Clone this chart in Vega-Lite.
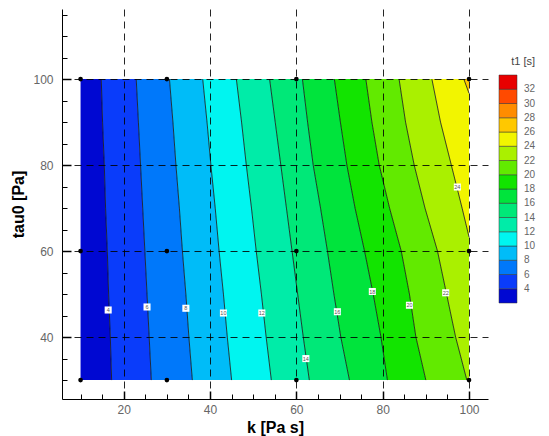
{
  "$schema": "https://vega.github.io/schema/vega-lite/v6.json",
  "autosize": "none",
  "width": 426,
  "height": 390,
  "padding": {"left": 62, "top": 9, "right": 61, "bottom": 37},
  "datasets": {
    "bands": [
      {"t":3,"tau":30,"x1":10,"x2":17.2},{"t":3,"tau":40,"x1":10,"x2":16.9},{"t":3,"tau":50,"x1":10,"x2":16.5},{"t":3,"tau":60,"x1":10,"x2":16.2},{"t":3,"tau":70,"x1":10,"x2":15.8},{"t":3,"tau":80,"x1":10,"x2":15.5},{"t":3,"tau":90,"x1":10,"x2":15.1},{"t":3,"tau":100,"x1":10,"x2":14.8},
      {"t":5,"tau":30,"x1":17.2,"x2":26.4},{"t":5,"tau":40,"x1":16.9,"x2":25.9},{"t":5,"tau":50,"x1":16.5,"x2":25.4},{"t":5,"tau":60,"x1":16.2,"x2":24.9},{"t":5,"tau":70,"x1":15.8,"x2":24.4},{"t":5,"tau":80,"x1":15.5,"x2":23.9},{"t":5,"tau":90,"x1":15.1,"x2":23.4},{"t":5,"tau":100,"x1":14.8,"x2":22.9},
      {"t":7,"tau":30,"x1":26.4,"x2":35.9},{"t":7,"tau":40,"x1":25.9,"x2":35.1},{"t":7,"tau":50,"x1":25.4,"x2":34.4},{"t":7,"tau":60,"x1":24.9,"x2":33.6},{"t":7,"tau":70,"x1":24.4,"x2":32.9},{"t":7,"tau":80,"x1":23.9,"x2":32.1},{"t":7,"tau":90,"x1":23.4,"x2":31.4},{"t":7,"tau":100,"x1":22.9,"x2":30.6},
      {"t":9,"tau":30,"x1":35.9,"x2":45.0},{"t":9,"tau":40,"x1":35.1,"x2":44.0},{"t":9,"tau":50,"x1":34.4,"x2":43.1},{"t":9,"tau":60,"x1":33.6,"x2":42.1},{"t":9,"tau":70,"x1":32.9,"x2":41.2},{"t":9,"tau":80,"x1":32.1,"x2":40.2},{"t":9,"tau":90,"x1":31.4,"x2":39.3},{"t":9,"tau":100,"x1":30.6,"x2":38.3},
      {"t":11,"tau":30,"x1":45.0,"x2":54.2},{"t":11,"tau":40,"x1":44.0,"x2":53.0},{"t":11,"tau":50,"x1":43.1,"x2":51.9},{"t":11,"tau":60,"x1":42.1,"x2":50.7},{"t":11,"tau":70,"x1":41.2,"x2":49.6},{"t":11,"tau":80,"x1":40.2,"x2":48.4},{"t":11,"tau":90,"x1":39.3,"x2":47.3},{"t":11,"tau":100,"x1":38.3,"x2":46.1},
      {"t":13,"tau":30,"x1":54.2,"x2":63.0},{"t":13,"tau":40,"x1":53.0,"x2":61.6},{"t":13,"tau":50,"x1":51.9,"x2":60.3},{"t":13,"tau":60,"x1":50.7,"x2":59.0},{"t":13,"tau":70,"x1":49.6,"x2":57.7},{"t":13,"tau":80,"x1":48.4,"x2":56.4},{"t":13,"tau":90,"x1":47.3,"x2":55.1},{"t":13,"tau":100,"x1":46.1,"x2":53.8},
      {"t":15,"tau":30,"x1":63.0,"x2":72.3},{"t":15,"tau":40,"x1":61.6,"x2":70.3},{"t":15,"tau":50,"x1":60.3,"x2":68.7},{"t":15,"tau":60,"x1":59.0,"x2":67.2},{"t":15,"tau":70,"x1":57.7,"x2":65.6},{"t":15,"tau":80,"x1":56.4,"x2":63.9},{"t":15,"tau":90,"x1":55.1,"x2":62.6},{"t":15,"tau":100,"x1":53.8,"x2":61.4},
      {"t":17,"tau":30,"x1":72.3,"x2":81.1},{"t":17,"tau":40,"x1":70.3,"x2":79.6},{"t":17,"tau":50,"x1":68.7,"x2":77.8},{"t":17,"tau":60,"x1":67.2,"x2":75.8},{"t":17,"tau":70,"x1":65.6,"x2":73.6},{"t":17,"tau":80,"x1":63.9,"x2":71.7},{"t":17,"tau":90,"x1":62.6,"x2":70.2},{"t":17,"tau":100,"x1":61.4,"x2":68.8},
      {"t":19,"tau":30,"x1":81.1,"x2":90.0},{"t":19,"tau":40,"x1":79.6,"x2":87.7},{"t":19,"tau":50,"x1":77.8,"x2":86.2},{"t":19,"tau":60,"x1":75.8,"x2":84.3},{"t":19,"tau":70,"x1":73.6,"x2":81.6},{"t":19,"tau":80,"x1":71.7,"x2":79.2},{"t":19,"tau":90,"x1":70.2,"x2":77.5},{"t":19,"tau":100,"x1":68.8,"x2":76.1},
      {"t":21,"tau":30,"x1":90.0,"x2":99.5},{"t":21,"tau":40,"x1":87.7,"x2":96.9},{"t":21,"tau":50,"x1":86.2,"x2":94.8},{"t":21,"tau":60,"x1":84.3,"x2":92.7},{"t":21,"tau":70,"x1":81.6,"x2":89.8},{"t":21,"tau":80,"x1":79.2,"x2":87.3},{"t":21,"tau":90,"x1":77.5,"x2":85.3},{"t":21,"tau":100,"x1":76.1,"x2":83.8},
      {"t":23,"tau":30,"x1":99.5,"x2":100},{"t":23,"tau":40,"x1":96.9,"x2":100},{"t":23,"tau":50,"x1":94.8,"x2":100},{"t":23,"tau":60,"x1":92.7,"x2":100},{"t":23,"tau":63.3,"x1":91.7,"x2":100},{"t":23,"tau":70,"x1":89.8,"x2":98.4},{"t":23,"tau":80,"x1":87.3,"x2":95.9},{"t":23,"tau":90,"x1":85.3,"x2":93.4},{"t":23,"tau":100,"x1":83.8,"x2":91.4},
      {"t":25,"tau":63.3,"x1":100,"x2":100},{"t":25,"tau":70,"x1":98.4,"x2":100},{"t":25,"tau":80,"x1":95.9,"x2":100},{"t":25,"tau":90,"x1":93.4,"x2":100},{"t":25,"tau":96.7,"x1":92.1,"x2":100},{"t":25,"tau":100,"x1":91.4,"x2":98.8},
      {"t":27,"tau":96.7,"x1":100,"x2":100},{"t":27,"tau":100,"x1":98.8,"x2":100}
    ],
    "lines": [
      {"lv":4,"tau":30,"k":17.2},{"lv":4,"tau":40,"k":16.9},{"lv":4,"tau":50,"k":16.5},{"lv":4,"tau":60,"k":16.2},{"lv":4,"tau":70,"k":15.8},{"lv":4,"tau":80,"k":15.5},{"lv":4,"tau":90,"k":15.1},{"lv":4,"tau":100,"k":14.8},
      {"lv":6,"tau":30,"k":26.4},{"lv":6,"tau":40,"k":25.9},{"lv":6,"tau":50,"k":25.4},{"lv":6,"tau":60,"k":24.9},{"lv":6,"tau":70,"k":24.4},{"lv":6,"tau":80,"k":23.9},{"lv":6,"tau":90,"k":23.4},{"lv":6,"tau":100,"k":22.9},
      {"lv":8,"tau":30,"k":35.9},{"lv":8,"tau":40,"k":35.1},{"lv":8,"tau":50,"k":34.4},{"lv":8,"tau":60,"k":33.6},{"lv":8,"tau":70,"k":32.9},{"lv":8,"tau":80,"k":32.1},{"lv":8,"tau":90,"k":31.4},{"lv":8,"tau":100,"k":30.6},
      {"lv":10,"tau":30,"k":45.0},{"lv":10,"tau":40,"k":44.0},{"lv":10,"tau":50,"k":43.1},{"lv":10,"tau":60,"k":42.1},{"lv":10,"tau":70,"k":41.2},{"lv":10,"tau":80,"k":40.2},{"lv":10,"tau":90,"k":39.3},{"lv":10,"tau":100,"k":38.3},
      {"lv":12,"tau":30,"k":54.2},{"lv":12,"tau":40,"k":53.0},{"lv":12,"tau":50,"k":51.9},{"lv":12,"tau":60,"k":50.7},{"lv":12,"tau":70,"k":49.6},{"lv":12,"tau":80,"k":48.4},{"lv":12,"tau":90,"k":47.3},{"lv":12,"tau":100,"k":46.1},
      {"lv":14,"tau":30,"k":63.0},{"lv":14,"tau":40,"k":61.6},{"lv":14,"tau":50,"k":60.3},{"lv":14,"tau":60,"k":59.0},{"lv":14,"tau":70,"k":57.7},{"lv":14,"tau":80,"k":56.4},{"lv":14,"tau":90,"k":55.1},{"lv":14,"tau":100,"k":53.8},
      {"lv":16,"tau":30,"k":72.3},{"lv":16,"tau":40,"k":70.3},{"lv":16,"tau":50,"k":68.7},{"lv":16,"tau":60,"k":67.2},{"lv":16,"tau":70,"k":65.6},{"lv":16,"tau":80,"k":63.9},{"lv":16,"tau":90,"k":62.6},{"lv":16,"tau":100,"k":61.4},
      {"lv":18,"tau":30,"k":81.1},{"lv":18,"tau":40,"k":79.6},{"lv":18,"tau":50,"k":77.8},{"lv":18,"tau":60,"k":75.8},{"lv":18,"tau":70,"k":73.6},{"lv":18,"tau":80,"k":71.7},{"lv":18,"tau":90,"k":70.2},{"lv":18,"tau":100,"k":68.8},
      {"lv":20,"tau":30,"k":90.0},{"lv":20,"tau":40,"k":87.7},{"lv":20,"tau":50,"k":86.2},{"lv":20,"tau":60,"k":84.3},{"lv":20,"tau":70,"k":81.6},{"lv":20,"tau":80,"k":79.2},{"lv":20,"tau":90,"k":77.5},{"lv":20,"tau":100,"k":76.1},
      {"lv":22,"tau":30,"k":99.5},{"lv":22,"tau":40,"k":96.9},{"lv":22,"tau":50,"k":94.8},{"lv":22,"tau":60,"k":92.7},{"lv":22,"tau":70,"k":89.8},{"lv":22,"tau":80,"k":87.3},{"lv":22,"tau":90,"k":85.3},{"lv":22,"tau":100,"k":83.8},
      {"lv":24,"tau":63.3,"k":100},{"lv":24,"tau":70,"k":98.4},{"lv":24,"tau":80,"k":95.9},{"lv":24,"tau":90,"k":93.4},{"lv":24,"tau":100,"k":91.4},
      {"lv":26,"tau":96.7,"k":100},{"lv":26,"tau":100,"k":98.8}
    ],
    "dots": [
      {"k":10,"tau":30},{"k":30,"tau":30},{"k":60,"tau":30},{"k":100,"tau":30},
      {"k":10,"tau":60},{"k":30,"tau":60},{"k":60,"tau":60},{"k":100,"tau":60},
      {"k":10,"tau":100},{"k":30,"tau":100},{"k":60,"tau":100},{"k":100,"tau":100}
    ],
    "labels": [
      {"k":16.4,"tau":46.3,"txt":"4"},{"k":25.4,"tau":47.0,"txt":"6"},{"k":34.4,"tau":46.7,"txt":"8"},
      {"k":43.1,"tau":45.6,"txt":"10"},{"k":52.0,"tau":45.6,"txt":"12"},{"k":62.2,"tau":35.0,"txt":"14"},
      {"k":69.5,"tau":45.9,"txt":"16"},{"k":77.6,"tau":50.6,"txt":"18"},{"k":86.2,"tau":47.4,"txt":"20"},
      {"k":94.6,"tau":50.3,"txt":"22"},{"k":97.3,"tau":74.9,"txt":"24"}
    ]
  },
  "layer": [
    {
      "data": {"name": "bands"},
      "mark": {"type": "area", "orient": "horizontal", "interpolate": "linear"},
      "encoding": {
        "y": {"field": "tau", "type": "quantitative",
              "scale": {"domain": [25.6, 116.3], "nice": false, "zero": false},
              "axis": {"orient": "left", "values": [40, 60, 80, 100], "tickSize": -9, "tickWidth": 1.5,
                       "labelPadding": 18, "labelFontSize": 12, "grid": true, "gridDash": [7, 5],
                       "gridColor": "#000", "gridOpacity": 0.85, "gridWidth": 1, "zindex": 1,
                       "title": "tau0 [Pa]", "titleFontSize": 16, "titleFontWeight": "bold", "titlePadding": 6}},
        "x": {"field": "x1", "type": "quantitative",
              "scale": {"domain": [5.7, 104.4], "nice": false, "zero": false},
              "axis": {"orient": "bottom", "values": [20, 40, 60, 80, 100], "tickSize": -8, "tickWidth": 1.5,
                       "labelPadding": 13, "labelFontSize": 12, "grid": true, "gridDash": [7, 5],
                       "gridColor": "#000", "gridOpacity": 0.85, "gridWidth": 1, "zindex": 1,
                       "title": "k [Pa s]", "titleFontSize": 16, "titleFontWeight": "bold", "titlePadding": 4}},
        "x2": {"field": "x2"},
        "color": {"field": "t", "type": "quantitative",
                  "scale": {"type": "threshold",
                            "domain": [4, 6, 8, 10, 12, 14, 16, 18, 20, 22, 24, 26, 28, 30, 32],
                            "range": ["#0008d2", "#0a3cfa", "#0078fa", "#00bcf8", "#00f5f0", "#00eca8", "#00e878", "#00e43c", "#12e400", "#62ea00", "#aaf000", "#f2f500", "#ffc800", "#ff8c00", "#ff4a00", "#e80000"]},
                  "legend": {"type": "gradient", "orient": "none", "legendX": 437, "legendY": 47,
                             "direction": "vertical", "gradientLength": 228, "gradientThickness": 18,
                             "gradientStrokeColor": "#333", "gradientStrokeWidth": 0.5,
                             "title": "t1 [s]", "titleFontSize": 11, "titleFontWeight": "normal",
                             "titleColor": "#444", "titleAnchor": "end", "titlePadding": 8,
                             "labelFontSize": 10, "labelColor": "#666", "labelOffset": 7}}
      }
    },
    {
      "data": {"name": "lines"},
      "mark": {"type": "line", "color": "#111", "strokeWidth": 0.8},
      "encoding": {
        "x": {"field": "k", "type": "quantitative", "axis": null},
        "y": {"field": "tau", "type": "quantitative", "axis": null},
        "detail": {"field": "lv"},
        "order": {"field": "tau"}
      }
    },
    {
      "data": {"name": "labels"},
      "mark": {"type": "square", "filled": true, "color": "white", "size": 50, "opacity": 1},
      "encoding": {
        "x": {"field": "k", "type": "quantitative", "axis": null},
        "y": {"field": "tau", "type": "quantitative", "axis": null}
      }
    },
    {
      "data": {"name": "labels"},
      "mark": {"type": "text", "fontSize": 5.5, "color": "#555", "baseline": "middle", "align": "center"},
      "encoding": {
        "x": {"field": "k", "type": "quantitative", "axis": null},
        "y": {"field": "tau", "type": "quantitative", "axis": null},
        "text": {"field": "txt"}
      }
    },
    {
      "data": {"name": "dots"},
      "mark": {"type": "circle", "color": "#000", "size": 22, "opacity": 1},
      "encoding": {
        "x": {"field": "k", "type": "quantitative",
              "axis": {"orient": "bottom", "values": [10, 15, 25, 30, 35, 45, 50, 55, 65, 70, 75, 85, 90, 95],
                       "tickSize": -5, "tickWidth": 1, "labels": false, "domain": false, "grid": false, "title": null}},
        "y": {"field": "tau", "type": "quantitative",
              "axis": {"orient": "left", "values": [30, 35, 45, 50, 55, 65, 70, 75, 85, 90, 95, 105, 110, 115],
                       "tickSize": -5, "tickWidth": 1, "labels": false, "domain": false, "grid": false, "title": null}}
      }
    }
  ],
  "resolve": {"axis": {"x": "independent", "y": "independent"}},
  "config": {
    "view": {"stroke": null},
    "font": "Liberation Sans",
    "axis": {"labelFont": "Liberation Sans", "titleFont": "Liberation Sans", "labelColor": "#666",
             "domainColor": "#000", "tickColor": "#000", "titleColor": "#000", "domainWidth": 1}
  }
}
